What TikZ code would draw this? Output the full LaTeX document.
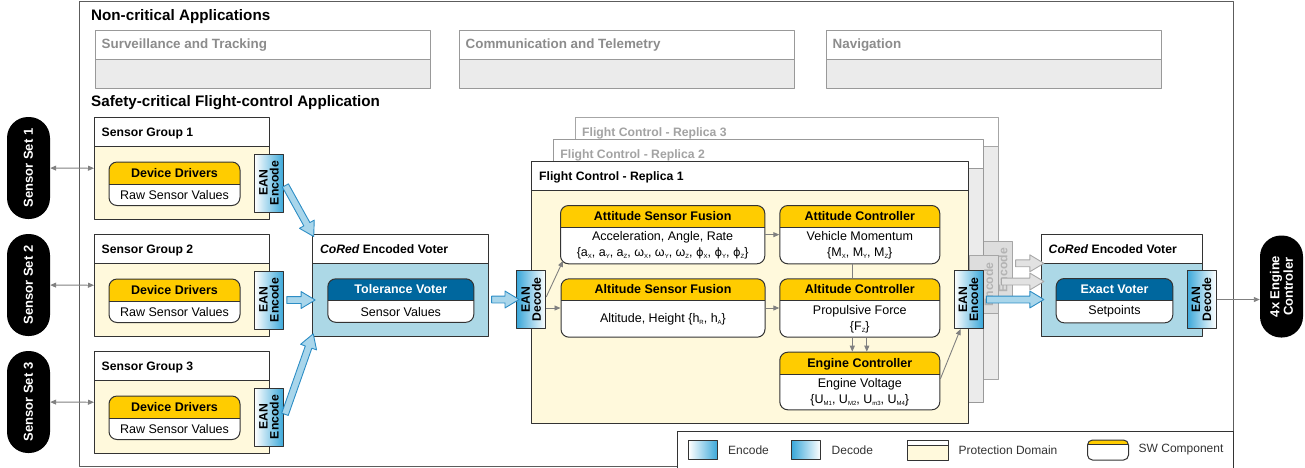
\documentclass[tikz,border=0pt]{standalone}
\usepackage{fontspec}
\setmainfont{Liberation Sans}
\newfontfamily\greekfont{DejaVu Sans}
\usetikzlibrary{arrows.meta,calc,shapes.arrows}

% palette
\definecolor{linedark}{HTML}{333333}
\definecolor{swyellow}{HTML}{FFCC00}
\definecolor{pdyellow}{HTML}{FFF9DC}
\definecolor{voterblue}{HTML}{ACD8E6}
\definecolor{hdrblue}{HTML}{00679E}
\definecolor{eanblue}{HTML}{3AA7D9}
\definecolor{fatedge}{HTML}{2C8DC5}
\definecolor{fatfill}{HTML}{A9D6EB}
\definecolor{grayedge}{HTML}{A8A8A8}
\definecolor{grayfill}{HTML}{E2E2E2}
\definecolor{nclight}{HTML}{EBEBEB}
\definecolor{ncline}{HTML}{999999}
\definecolor{nctext}{HTML}{8C8C8C}
\definecolor{repline}{HTML}{A6A6A6}
\definecolor{reptext}{HTML}{A3A3A3}
\definecolor{fadedfill}{HTML}{DDDDDD}
\definecolor{fadedtext}{HTML}{B3B3B3}
\definecolor{wiregray}{HTML}{808080}

% small index letters behind a symbol
\newcommand{\lowix}[1]{\raisebox{-1.8pt}{\fontsize{6}{6}\selectfont #1}}
\newcommand{\vphi}{{\greekfont\fontsize{11.5}{12}\selectfont ϕ}}

% hollow block arrow from #3 to #4
\newcommand{\fatarrow}[4][fatblue]{%
  \path let \p1=#3, \p2=#4,
    \n1={atan2(\y2-\y1,\x2-\x1)}, \n2={veclen(\x2-\x1,\y2-\y1)} in
    node[#1, minimum height=\n2, rotate=\n1] (#2) at ($(\p1)!.5!(\p2)$) {};}

\tikzset{
  pdomain/.style n args={3}{draw=#2, line width=1pt, fill=#1, anchor=north west, inner sep=0pt,
    path picture={
      \fill[white] (path picture bounding box.north west) rectangle ([yshift=-#3]path picture bounding box.north east);
      \draw[#2, line width=1pt] ([yshift=-#3]path picture bounding box.north west) -- ([yshift=-#3]path picture bounding box.north east);
    }},
  swcomp/.style 2 args={draw=linedark, line width=1pt, fill=white, rounded corners=8pt, anchor=north west, inner sep=0pt,
    path picture={
      \fill[#1, sharp corners] (path picture bounding box.north west) rectangle ([yshift=-#2]path picture bounding box.north east);
      \draw[linedark, line width=1pt, sharp corners] ([yshift=-#2]path picture bounding box.north west) -- ([yshift=-#2]path picture bounding box.north east);
    }},
  apptitle/.style={anchor=base west, inner sep=0pt, font=\bfseries\fontsize{15.2}{17}\selectfont},
  nctitle/.style={anchor=base west, inner sep=0pt, text=nctext, font=\bfseries\fontsize{13.4}{15}\selectfont},
  hdrtitle/.style={anchor=base west, inner sep=0pt, font=\bfseries\fontsize{12.2}{14}\selectfont},
  comptitle/.style={anchor=base, inner sep=0pt, font=\bfseries\fontsize{12.5}{14}\selectfont},
  comptext/.style={align=center, inner sep=0pt, font=\fontsize{12.5}{16}\selectfont},
  ean/.style={draw=linedark, line width=1pt, minimum width=29pt, minimum height=58pt, inner sep=0pt},
  encode/.style={ean, left color=white, right color=eanblue},
  decode/.style={ean, left color=eanblue, right color=white},
  fadedenc/.style={ean, draw=repline, fill=fadedfill},
  eantext/.style={rotate=90, align=center, inner sep=0pt, font=\bfseries\fontsize{12.2}{11}\selectfont},
  pill/.style={fill=black, rounded corners=21pt, minimum width=43pt, minimum height=102pt, inner sep=0pt},
  pilltext/.style={rotate=90, align=center, inner sep=0pt, text=white, font=\bfseries\fontsize{13}{13.5}\selectfont},
  fatblue/.style={single arrow, draw=fatedge, fill=fatfill, line width=0.9pt, inner sep=3pt,
    single arrow head extend=5pt, single arrow tip angle=62},
  fatgray/.style={fatblue, draw=grayedge, fill=grayfill},
  wire/.style={draw=wiregray, line width=0.9pt, -{Triangle[length=6pt,width=5pt]}},
  biwire/.style={wire, {Triangle[length=6pt,width=5pt]}-{Triangle[length=6pt,width=5pt]}},
  link/.style={draw=wiregray, line width=0.9pt},
  legtext/.style={anchor=west, inner sep=0pt, text=linedark, font=\fontsize{12}{14}\selectfont},
}

\begin{document}
\begin{tikzpicture}[x=1pt, y=-1pt, line join=round]
  \useasboundingbox (0,0) rectangle (1305,467);
  \draw[draw=linedark!80, line width=1pt] (79,1) rectangle (1233,466);

  % non-critical part
  \node[apptitle] (ncapps) at (91,20.5) {Non-critical Applications};
  \foreach \nx/\napp [count=\k] in {95/Surveillance and Tracking, 459/Communication and Telemetry, 826/Navigation} {
    \node[pdomain={nclight}{ncline}{29pt}, minimum width=335pt, minimum height=58pt] (nc\k) at (\nx,30) {};
    \node[nctitle] (nc\k-t) at ([xshift=6.5pt,yshift=-18.8pt]nc\k.north west) {\napp};
  }

  \node[apptitle] (fcapp) at (91,106.5) {Safety-critical Flight-control Application};

  % sensor sets and sensor groups
  \foreach \i/\gy in {1/117, 2/234, 3/351} {
    \node[pill, label={[pilltext]center:Sensor Set \i}] (set\i) at (28.5,\gy+51) {};
    \node[pdomain={pdyellow}{linedark}{29pt}, minimum width=175pt, minimum height=102pt] (grp\i) at (94,\gy) {};
    \node[hdrtitle] (grp\i-t) at ([xshift=7.5pt,yshift=-19pt]grp\i.north west) {Sensor Group \i};
    \node[swcomp={swyellow}{22pt}, minimum width=131pt, minimum height=43.5pt] (drv\i) at (108.5,\gy+44.5) {};
    \node[comptitle] (drv\i-t) at ([yshift=-15.5pt]drv\i.north) {Device Drivers};
    \node[comptext] (drv\i-b) at ($([yshift=-22pt]drv\i.north)!.5!(drv\i.south)$) {Raw Sensor Values};
    \node[encode, label={[eantext]center:{EAN\\Encode}}] (enc\i) at (269,\gy+66) {};
    \draw[biwire] (set\i) -- (grp\i);
  }

  % tolerance voter
  \node[pdomain={voterblue}{linedark}{29pt}, minimum width=175.5pt, minimum height=101.5pt] (vote1) at (312.3,234) {};
  \node[hdrtitle] (vote1-t) at ([xshift=7.5pt,yshift=-19pt]vote1.north west) {\textit{CoRed} Encoded Voter};
  \node[swcomp={hdrblue}{22pt}, minimum width=146pt, minimum height=43.5pt] (tolv) at (327.3,278.3) {};
  \node[comptitle, text=white] (tolv-t) at ([yshift=-15.5pt]tolv.north) {Tolerance Voter};
  \node[comptext] (tolv-b) at ($([yshift=-22pt]tolv.north)!.5!(tolv.south)$) {Sensor Values};

  % replicas behind
  \node[pdomain={nclight}{repline}{29pt}, minimum width=423pt, minimum height=261.7pt] (rep3) at (574.5,117.3) {};
  \node[hdrtitle, text=reptext] (rep3-t) at ([xshift=7.5pt,yshift=-19pt]rep3.north west) {Flight Control - Replica 3};
  \node[fadedenc, label={[eantext, text=fadedtext]center:{EAN\\Encode}}] (encr3) at (997.8,270.2) {};
  \node[pdomain={nclight}{ncline}{29pt}, minimum width=430.6pt, minimum height=262.7pt] (rep2) at (552.7,139) {};
  \node[hdrtitle, text=reptext] (rep2-t) at ([xshift=7.5pt,yshift=-19pt]rep2.north west) {Flight Control - Replica 2};
  \node[fadedenc, label={[eantext, text=fadedtext]center:{EAN\\Encode}}] (encr2) at (983.5,284.5) {};

  % replica 1
  \node[pdomain={pdyellow}{linedark}{29pt}, minimum width=437.3pt, minimum height=262.3pt] (rep1) at (531,161) {};
  \node[hdrtitle] (rep1-t) at ([xshift=8pt,yshift=-19pt]rep1.north west) {Flight Control - Replica 1};
  \node[decode, label={[eantext]center:{EAN\\Decode}}] (dec1) at (531.2,299.5) {};

  \node[swcomp={swyellow}{22pt}, minimum width=204.3pt, minimum height=58.3pt] (attSF) at (560,205) {};
  \node[comptitle] (attSF-t) at ([yshift=-15.5pt]attSF.north) {Attitude Sensor Fusion};
  \node[comptext] (attSF-b) at ($([yshift=-22pt]attSF.north)!.5!(attSF.south)$)
    {Acceleration, Angle, Rate\\\{a\lowix{X}, a\lowix{Y}, a\lowix{Z}, ω\lowix{X}, ω\lowix{Y}, ω\lowix{Z}, \vphi\lowix{X}, \vphi\lowix{Y}, \vphi\lowix{Z}\}};
  \node[swcomp={swyellow}{22pt}, minimum width=160pt, minimum height=58.3pt] (attCtl) at (779.3,205) {};
  \node[comptitle] (attCtl-t) at ([yshift=-15.5pt]attCtl.north) {Attitude Controller};
  \node[comptext] (attCtl-b) at ($([yshift=-22pt]attCtl.north)!.5!(attCtl.south)$)
    {Vehicle Momentum\\\{M\lowix{X}, M\lowix{Y}, M\lowix{Z}\}};
  \node[swcomp={swyellow}{22pt}, minimum width=204pt, minimum height=58.4pt] (altSF) at (560.5,278.3) {};
  \node[comptitle] (altSF-t) at ([yshift=-15.5pt]altSF.north) {Altitude Sensor Fusion};
  \node[comptext] (altSF-b) at ($([yshift=-22pt]altSF.north)!.5!(altSF.south)$)
    {Altitude, Height \{h\lowix{R}, h\lowix{A}\}};
  \node[swcomp={swyellow}{22pt}, minimum width=160pt, minimum height=58.4pt] (altCtl) at (779.3,278.3) {};
  \node[comptitle] (altCtl-t) at ([yshift=-15.5pt]altCtl.north) {Altitude Controller};
  \node[comptext] (altCtl-b) at ($([yshift=-22pt]altCtl.north)!.5!(altCtl.south)$)
    {Propulsive Force\\\{F\lowix{Z}\}};
  \node[swcomp={swyellow}{22pt}, minimum width=160pt, minimum height=57.6pt] (engCtl) at (779.3,351.7) {};
  \node[comptitle] (engCtl-t) at ([yshift=-15.5pt]engCtl.north) {Engine Controller};
  \node[comptext] (engCtl-b) at ($([yshift=-22pt]engCtl.north)!.5!(engCtl.south)$)
    {Engine Voltage\\\{U\lowix{M1}, U\lowix{M2}, U\lowix{m3}, U\lowix{M4}\}};
  \node[encode, label={[eantext]center:{EAN\\Encode}}] (encr1) at (968.5,299.5) {};

  \draw[wire] ([yshift=2.5pt]dec1.east) -- ([xshift=3pt,yshift=3.5pt]attSF.south west);
  \draw[wire] (altSF.west -| dec1.east) -- (altSF.west);
  \draw[wire] (attSF) -- (attCtl);
  \draw[wire] (altSF) -- (altCtl);
  \draw[link] ([xshift=-7.5pt]attCtl.south) -- ([xshift=-7.5pt]altCtl.north);
  \draw[wire] ([xshift=-7.5pt]altCtl.south) -- ([xshift=-7.5pt]engCtl.north);
  \draw[wire] ([xshift=7pt]altCtl.south) -- ([xshift=7pt]engCtl.north);
  \draw[wire] ([yshift=2pt]engCtl.east) -- ([xshift=-8pt]encr1.south);

  % exact voter
  \node[pdomain={voterblue}{linedark}{29pt}, minimum width=160.7pt, minimum height=102pt] (vote2) at (1041,234) {};
  \node[hdrtitle] (vote2-t) at ([xshift=7.5pt,yshift=-19pt]vote2.north west) {\textit{CoRed} Encoded Voter};
  \node[swcomp={hdrblue}{22pt}, minimum width=116.6pt, minimum height=44.3pt] (exv) at (1055.7,278) {};
  \node[comptitle, text=white] (exv-t) at ([yshift=-15.5pt]exv.north) {Exact Voter};
  \node[comptext] (exv-b) at ($([yshift=-22pt]exv.north)!.5!(exv.south)$) {Setpoints};
  \node[decode, label={[eantext]center:{EAN\\Decode}}] (dec2) at (1201.5,299.5) {};
  \node[pill, label={[pilltext]center:{4x Engine\\Controler}}] (eng4) at (1281.5,286.5) {};
  \draw[wire] (dec2.east) -- (dec2.east -| eng4.west);

  % encoded data paths
  \fatarrow{fa1}{(enc1.east)}{(vote1.north west)}
  \fatarrow{fa2}{(enc2.east)}{(enc2.east -| vote1.west)}
  \fatarrow{fa3}{(enc3.east)}{(vote1.south west)}
  \fatarrow{fa4}{(dec1.west -| vote1.east)}{(dec1.west)}
  \coordinate (v2top) at ([yshift=-29.3pt]vote2.north west);
  \coordinate (v2mid) at ([yshift=-47.5pt]vote2.north west);
  \fatarrow[fatgray]{fg3}{(encr3.east |- v2top)}{(v2top)}
  \fatarrow[fatgray]{fg2}{(encr2.east |- v2mid)}{(v2mid)}
  \fatarrow{fa5}{(encr1.east)}{(encr1.east -| vote2.west)}

  % legend
  \node[draw=linedark, line width=1pt, fill=white, anchor=north west, minimum width=556pt, minimum height=40pt] (legend) at (677,431) {};
  \node[encode, minimum height=19pt, anchor=north west] (lg1) at (688,440) {};
  \node[legtext] (lg1-t) at ([xshift=10pt]lg1.east) {Encode};
  \node[decode, minimum height=19pt, anchor=north west] (lg2) at (791,440) {};
  \node[legtext] (lg2-t) at ([xshift=10.5pt]lg2.east) {Decode};
  \node[pdomain={pdyellow}{linedark}{5pt}, minimum width=41pt, minimum height=20pt] (lg3) at (907,439.5) {};
  \node[legtext] (lg3-t) at ([xshift=9.5pt]lg3.east) {Protection Domain};
  \node[swcomp={swyellow}{4.5pt}, rounded corners=5pt, minimum width=41pt, minimum height=20pt] (lg4) at (1087,439.5) {};
  \node[legtext] (lg4-t) at ([xshift=9.5pt]lg4.east) {SW Component};
\end{tikzpicture}
\end{document}
